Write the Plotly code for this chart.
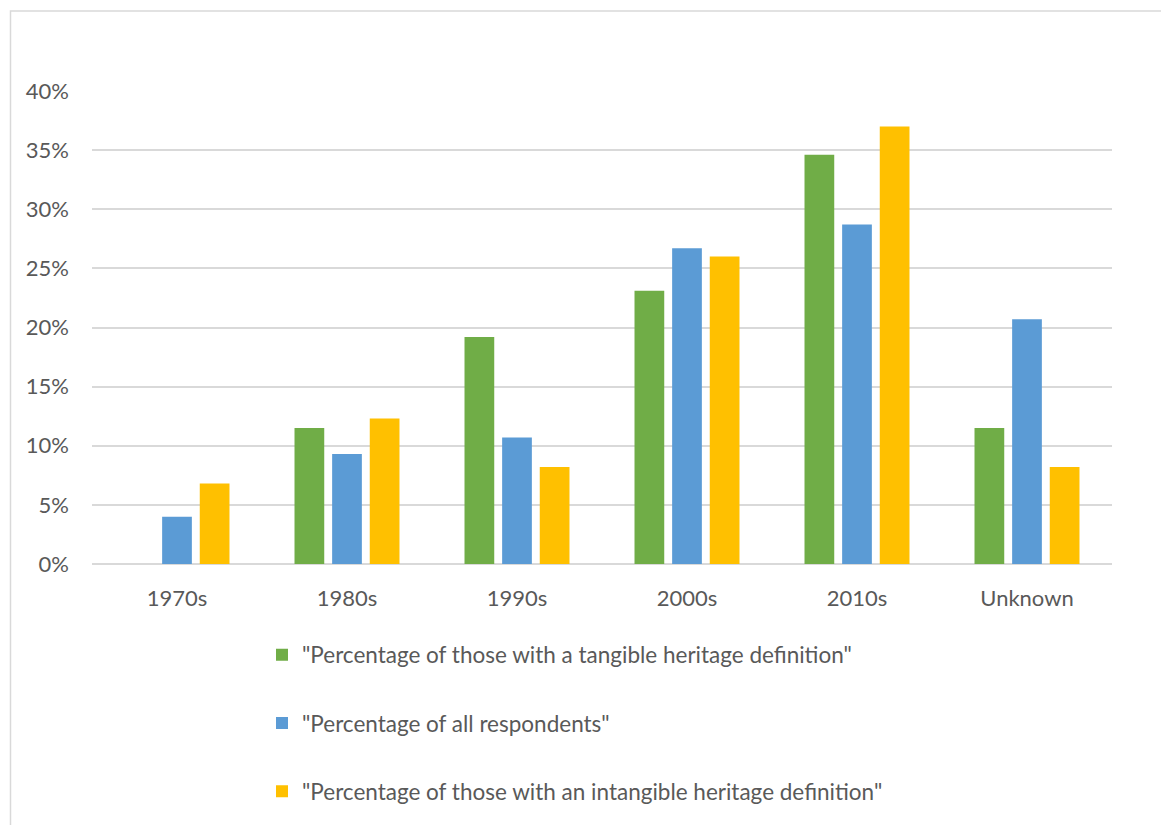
import plotly.graph_objects as go

# Decades in which respondents were born / grouped
decades = ["1970s", "1980s", "1990s", "2000s", "2010s", "Unknown"]

# Percent shares per decade for each respondent group
tangible = [None, 11.5, 19.2, 23.1, 34.6, 11.5]
all_respondents = [4.0, 9.3, 10.7, 26.7, 28.7, 20.7]
intangible = [6.8, 12.3, 8.2, 26.0, 37.0, 8.2]

series_names = [
    '"Percentage of those with a tangible heritage definition"',
    '"Percentage of all respondents"',
    '"Percentage of those with an intangible heritage definition"',
]
series_values = [tangible, all_respondents, intangible]
series_colors = ["#70AD47", "#5B9BD5", "#FFC000"]

y_ticks = [0, 5, 10, 15, 20, 25, 30, 35, 40]

FONT = "Lato"
TEXT = "#595959"
GRID = "#D9D9D9"

fig = go.Figure()
for i, (name, vals, col) in enumerate(zip(series_names, series_values, series_colors)):
    fig.add_trace(go.Bar(
        x=decades,
        y=[None if v is None else v / 100 for v in vals],
        name=name,
        marker=dict(color=col, line=dict(width=0)),
        legendgroup=f"g{i}",
    ))

# plot-area geometry in pixels
W, H = 1161, 825
L, R, T, B = 92, 49, 91, 258
pw, ph = W - L - R, H - T - B

def px_x(p):
    return (p - L) / pw

def px_y(p):
    return (H - B - p) / ph

fig.update_layout(
    width=W, height=H,
    margin=dict(l=L, r=R, t=T, b=B, pad=0),
    paper_bgcolor="white",
    plot_bgcolor="white",
    barmode="group",
    bargap=0.336,
    bargroupgap=0.21,
    font=dict(family=FONT, size=22, color=TEXT),
    showlegend=True,
    legend=dict(
        x=px_x(262), xanchor="left",
        y=px_y(637), yanchor="top",
        orientation="v",
        traceorder="grouped",
        tracegroupgap=36,
        font=dict(family=FONT, size=22.5, color=TEXT),
        bgcolor="rgba(0,0,0,0)",
    ),
    xaxis=dict(
        showgrid=False,
        showline=False,
        ticks="",
        tickfont=dict(family=FONT, size=22, color=TEXT),
        ticklabelstandoff=19,
    ),
    yaxis=dict(
        range=[0, 0.4],
        tickvals=[v / 100 for v in y_ticks],
        ticktext=[f"{v}%" for v in y_ticks],
        showgrid=True,
        gridcolor=GRID,
        gridwidth=1.5,
        zeroline=True,
        zerolinecolor=GRID,
        zerolinewidth=1.5,
        showline=False,
        ticks="",
        tickfont=dict(family=FONT, size=22, color=TEXT),
        ticklabelstandoff=22,
    ),
    shapes=[dict(
        type="rect", xref="paper", yref="paper",
        x0=px_x(10.5), x1=px_x(1175),
        y0=px_y(840), y1=px_y(10.5),
        line=dict(color=GRID, width=1.5),
        fillcolor="rgba(0,0,0,0)",
        layer="below",
    )],
)

fig.write_html("out.html")
